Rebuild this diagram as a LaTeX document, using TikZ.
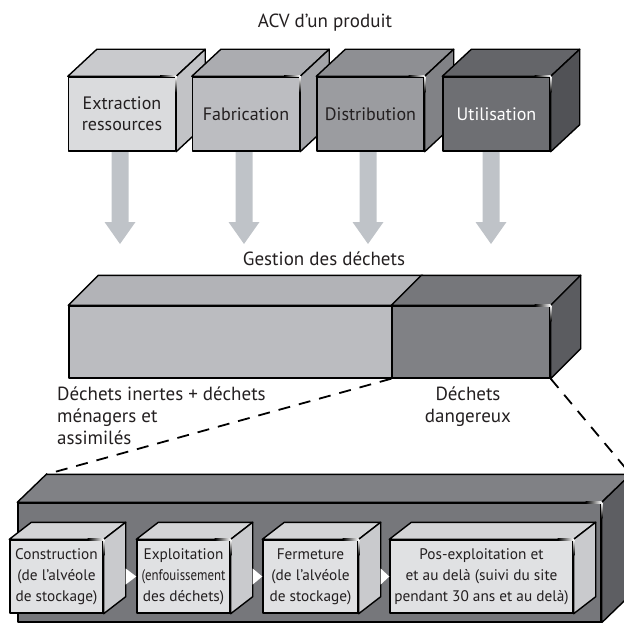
\documentclass[tikz,border=0pt]{standalone}
\usepackage{fontspec}
\setmainfont{PT Sans}
\usetikzlibrary{calc}
\definecolor{fA}{HTML}{DADBDD}\definecolor{tA}{HTML}{C9CACD}\definecolor{sA}{HTML}{C2C3C6}
\definecolor{fB}{HTML}{BCBDC1}\definecolor{tB}{HTML}{ABACB0}\definecolor{sB}{HTML}{A3A4A8}
\definecolor{fC}{HTML}{9B9CA0}\definecolor{tC}{HTML}{8E8F93}\definecolor{sC}{HTML}{818286}
\definecolor{fD}{HTML}{6E6F73}\definecolor{tD}{HTML}{646569}\definecolor{sD}{HTML}{515256}
\definecolor{arr}{HTML}{BFC3C8}
\definecolor{mL}{HTML}{BBBCC0}\definecolor{mLt}{HTML}{B2B3B7}
\definecolor{mR}{HTML}{808185}\definecolor{mRt}{HTML}{76777B}\definecolor{mRs}{HTML}{5B5C60}
\definecolor{bF}{HTML}{76777B}\definecolor{bT}{HTML}{808185}\definecolor{bS}{HTML}{5D5E62}
\definecolor{sF}{HTML}{E0E1E3}\definecolor{sT}{HTML}{D3D4D6}\definecolor{sS}{HTML}{C9CACD}
\definecolor{txt}{HTML}{231F20}
\tikzset{
  face/.style={draw=black, line width=1.4pt, line join=round},
  frontbox/.style={face, minimum height=74pt, minimum width=107pt, inner sep=0pt, align=center,
     font=\fontsize{18}{21}\selectfont, text=txt},
  smallbox/.style={face, fill=sF, minimum height=73pt, inner sep=0pt, align=center,
     font=\fontsize{15.3}{21}\selectfont, text=txt},
  lbl/.style={font=\fontsize{19}{22}\selectfont, text=txt, inner sep=0pt},
  arrowfill/.style={fill=arr},
  dashline/.style={draw=black, line width=1.8pt, dash pattern=on 12pt off 9pt},
  tri/.style={fill=white}
}
\newcommand\cubeparts[5]{%
  \filldraw[face, fill=#4] (#1.north west) -- ++(#2,-#3) -- ($(#1.north east)+(#2,-#3)$) -- (#1.north east) -- cycle;
  \filldraw[face, fill=#5] (#1.north east) -- ++(#2,-#3) -- ($(#1.south east)+(#2,-#3)$) -- (#1.south east) -- cycle;
  \shine{#1.north east}{#2}{#3}%
}
\newcommand\shine[3]{%
  \shade[left color=black, right color=white] ($(#1)+(-16,-0.7)$) rectangle ($(#1)+(0,0.7)$);
  \shade[top color=white, bottom color=black] ($(#1)+(-0.7,0)$) rectangle ($(#1)+(0.7,16)$);
}
\newcommand\grayarrow[1]{%
  \fill[arrowfill] ($(#1)+(-8.5,-10)$) -- ++(0,81) -- ++(-7,0) -- ++(15.5,22) -- ++(15.5,-22) -- ++(-7,0) -- ++(0,-81) -- cycle;
}
\begin{document}
\begin{tikzpicture}[x=1pt,y=-1pt]
\useasboundingbox (0,0) rectangle (624,623);
\clip (0,0) rectangle (624,623);

% title
\node[lbl, anchor=base] (title) at (325,28) {ACV d’un produit};

% arrows (behind boxes)
\coordinate (a1) at (120,151);
\coordinate (a2) at (244,151);
\coordinate (a3) at (368,151);
\coordinate (a4) at (491,151);
\grayarrow{a1}\grayarrow{a2}\grayarrow{a3}\grayarrow{a4}

% top boxes
\node[frontbox, fill=fA] (b1) at (122,114) {Extraction\\ressources};
\cubeparts{b1}{29}{27}{tA}{sA}
\node[frontbox, fill=fB] (b2) at (246,114) {Fabrication};
\cubeparts{b2}{29}{27}{tB}{sB}
\node[frontbox, fill=fC] (b3) at (370.5,114) {Distribution};
\cubeparts{b3}{29}{27}{tC}{sC}
\node[frontbox, fill=fD, text=white] (b4) at (496.5,114) {Utilisation};
\cubeparts{b4}{29}{27}{tD}{sD}

\node[lbl, anchor=base] (gest) at (324,265) {Gestion des déchets};

% middle bar
\node[face, fill=mL, minimum width=323pt, minimum height=72pt, inner sep=0pt] (ml) at (230.5,342) {};
\filldraw[face, fill=mLt] (ml.north west) -- ++(30,-30) -- ($(ml.north east)+(30,-30)$) -- (ml.north east) -- cycle;
\node[face, fill=mR, minimum width=158pt, minimum height=72pt, inner sep=0pt] (mr) at (471,342) {};
\cubeparts{mr}{30}{30}{mRt}{mRs}

\node[lbl, anchor=base west, align=left] (lab1) at (57,444) {Déchets inertes + déchets\\ménagers et\\assimilés};
\node[lbl, anchor=base, align=center] (lab2) at (468,422) {Déchets\\dangereux};

% bottom big box
\node[face, fill=bF, minimum width=583pt, minimum height=119pt, inner sep=0pt] (big) at (309.5,562.5) {};
\cubeparts{big}{29}{28}{bT}{bS}
\coordinate (bigTL) at ($(big.north west)+(29,-28)$);
\coordinate (bigTR) at ($(big.north east)+(29,-28)$);

% small boxes
\node[smallbox, minimum width=93pt] (s1) at (56.5,576.5) {Construction\\(de l’alvéole\\de stockage)};
\cubeparts{s1}{22}{17}{sT}{sS}
\node[smallbox, minimum width=93pt] (s2) at (183.5,576.5) {Exploitation\\\scalebox{0.84}[1]{(enfouissement}\\des déchets)};
\cubeparts{s2}{22}{17}{sT}{sS}
\node[smallbox, minimum width=95pt] (s3) at (310.5,576.5) {Fermeture\\(de l’alvéole\\de stockage)};
\cubeparts{s3}{22}{17}{sT}{sS}
\node[smallbox, minimum width=183pt] (s4) at (481.5,576.5) {Pos-exploitation et\\et au delà (suivi du site\\pendant 30 ans et au delà)};
\cubeparts{s4}{22}{17}{sT}{sS}

% white triangle connectors
\fill[tri] ($(s1.east)+(22,-8)$) -- ($(s2.west)+(0,0)$) -- ($(s1.east)+(22,8)$) -- cycle;
\fill[tri] ($(s2.east)+(22,-8)$) -- ($(s3.west)+(0,0)$) -- ($(s2.east)+(22,8)$) -- cycle;
\fill[tri] ($(s3.east)+(22,-8)$) -- ($(s4.west)+(0,0)$) -- ($(s3.east)+(22,8)$) -- cycle;

% dashed lines
\draw[dashline] (mr.south west) -- (bigTL);
\draw[dashline] (mr.south east) -- (bigTR);
\end{tikzpicture}
\end{document}
